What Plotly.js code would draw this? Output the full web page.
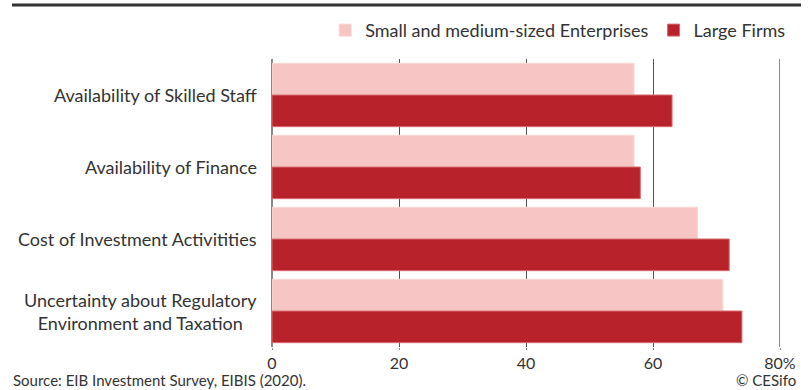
<!DOCTYPE html>
<html>
<head>
<meta charset="utf-8">
<script src="https://cdn.plot.ly/plotly-3.0.1.min.js"></script>
<style>html,body{margin:0;padding:0;background:#fff;}#chart{width:809px;height:390px;}</style>
</head>
<body>
<div id="chart"></div>
<script>
const categories = [
  "Availability of Skilled Staff",
  "Availability of Finance",
  "Cost of Investment Activitities",
  "Uncertainty about Regulatory<br>Environment and Taxation"
];
const smeValues = [57, 57, 67, 71];
const largeValues = [63, 58, 72, 74];
const seriesNames = ["Small and medium-sized Enterprises", "Large Firms"];
const xTickVals = [0, 20, 40, 60, 80];
const xTickText = ["0", "20", "40", "60", "80%"];

const FONT = "Lato, 'Noto Sans', sans-serif";

const traces = [
  {type: "bar", orientation: "h", name: seriesNames[0], y: categories, x: smeValues,
   marker: {color: "#f7c6c4", line: {color: "#f9d6d4", width: 1}}, hoverinfo: "x"},
  {type: "bar", orientation: "h", name: seriesNames[1], y: categories, x: largeValues,
   marker: {color: "#b8232b", line: {color: "#d86a70", width: 1}}, hoverinfo: "x"}
];

const catLabels = categories.map(c => ({
  xref: "paper", yref: "y", x: 0, y: c, xanchor: "right", yanchor: "middle",
  xshift: -13, align: "center", text: c, showarrow: false,
  font: {family: FONT, size: 18, color: "#333"}
}));

const layout = {
  width: 809, height: 390,
  margin: {l: 272, r: 29, t: 59, b: 43},
  paper_bgcolor: "#fff", plot_bgcolor: "#fff",
  font: {family: FONT, color: "#333", size: 18},
  barmode: "group", bargap: 0.12, bargroupgap: 0,
  showlegend: true,
  legend: {orientation: "h", x: 1.022, xanchor: "right", y: 1.035, yanchor: "bottom",
           font: {family: FONT, size: 18, color: "#333"}, traceorder: "normal",
           itemwidth: 30, bgcolor: "rgba(0,0,0,0)"},
  xaxis: {range: [0, 80], tickvals: xTickVals, ticktext: xTickText,
          showgrid: true, gridcolor: "#555", gridwidth: 1,
          zeroline: true, zerolinecolor: "#888", zerolinewidth: 2,
          showline: false, ticks: "outside", ticklen: 2, tickcolor: "#888",
          tickfont: {family: FONT, size: 16, color: "#333"}, fixedrange: true},
  yaxis: {type: "category", autorange: "reversed", showgrid: false, zeroline: false,
          showticklabels: false, ticks: "", fixedrange: true},
  shapes: [
    {type: "line", xref: "paper", yref: "paper", x0: 0, x1: 0, y0: 0, y1: 1, line: {color: "#888", width: 2}, layer: "below"},
    {type: "line", xref: "x", yref: "paper", x0: 80, x1: 80, y0: 0, y1: 1, line: {color: "#888", width: 2}, layer: "below"},
    {type: "line", xref: "paper", yref: "paper", x0: -0.5118, x1: 1.0413, y0: 1.1875, y1: 1.1875, line: {color: "#333", width: 3}}
  ],
  annotations: catLabels.concat([
    {xref: "paper", yref: "paper", x: -0.5138, y: -0.1545, xanchor: "left", yanchor: "bottom",
     text: "Source: EIB Investment Survey, EIBIS (2020).", showarrow: false,
     font: {family: FONT, size: 15, color: "#333"}},
    {xref: "paper", yref: "paper", x: 1.0354, y: -0.1545, xanchor: "right", yanchor: "bottom",
     text: "© CESifo", showarrow: false, font: {family: FONT, size: 15, color: "#333"}}
  ])
};

Plotly.newPlot("chart", traces, layout, {displayModeBar: false, staticPlot: true});
</script>
</body>
</html>
